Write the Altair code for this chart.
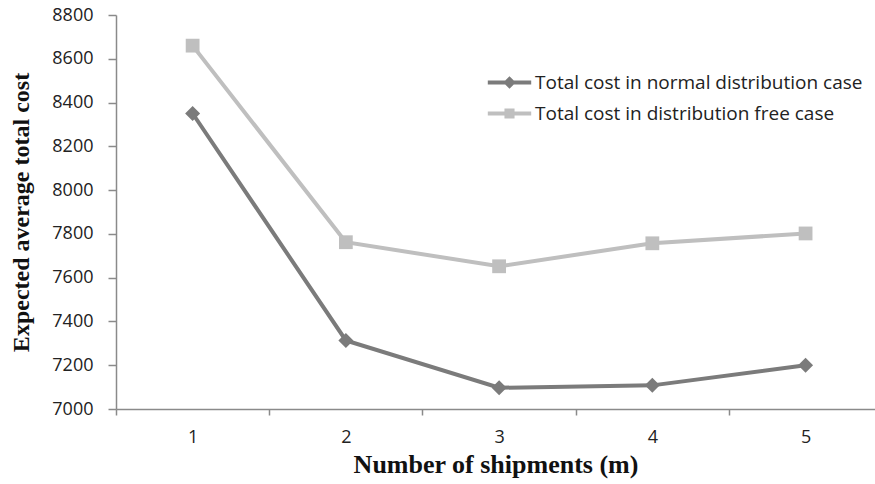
import altair as alt
import pandas as pd

# Expected average total cost by number of shipments
shipments = [1, 2, 3, 4, 5]
normal_cost = [8350, 7313, 7097, 7108, 7200]
free_cost = [8660, 7762, 7652, 7757, 7802]
series_names = [
    "Total cost in normal distribution case",
    "Total cost in distribution free case",
]
series_colors = ["#7b7b7b", "#bfbfbf"]
y_ticks = list(range(7000, 8801, 200))
x_ticks = [0.5, 1, 1.5, 2, 2.5, 3, 3.5, 4, 4.5, 5]

rows = []
for name, vals in zip(series_names, [normal_cost, free_cost]):
    for m, v in zip(shipments, vals):
        rows.append({"m": m, "cost": v, "series": name})
df = pd.DataFrame(rows)

LABEL_FONT = "Open Sans"
TITLE_FONT = "Liberation Serif"
AXIS_GREY = "#8a8a8a"

# legend glyphs: a short line segment with the series marker on it
diamond_path = "M-3.1,-0.27H3.1V0.27H-3.1Z M0,-0.9L0.9,0L0,0.9L-0.9,0Z"
square_path = "M-3.1,-0.27H3.1V0.27H-3.1Z M-0.72,-0.72H0.72V0.72H-0.72Z"
legend_glyphs = [diamond_path, square_path]

x_enc = alt.X(
    "m:Q",
    scale=alt.Scale(domain=[0.5, 5.453], nice=False, zero=False),
    axis=alt.Axis(
        values=x_ticks,
        labelExpr="datum.value % 1 === 0 ? format(datum.value, 'd') : ''",
        tickColor={
            "condition": {"test": "datum.value % 1 === 0", "value": "transparent"},
            "value": AXIS_GREY,
        },
        tickSize=6,
        domainColor=AXIS_GREY,
        domainWidth=1.5,
        tickWidth=1.5,
        grid=False,
        labelFont=LABEL_FONT,
        labelFontSize=18,
        labelColor="#222222",
        labelPadding=13,
        labelOverlap=False,
        labelFlush=False,
        title="Number of shipments  (m)",
        titleFont=TITLE_FONT,
        titleFontSize=26,
        titleFontWeight="bold",
        titleColor="#111111",
        titlePadding=5,
    ),
)

y_enc = alt.Y(
    "cost:Q",
    scale=alt.Scale(domain=[7000, 8800], nice=False, zero=False),
    axis=alt.Axis(
        values=y_ticks,
        format="d",
        tickSize=8,
        tickColor=AXIS_GREY,
        tickWidth=1.5,
        domainColor=AXIS_GREY,
        domainWidth=1.5,
        grid=False,
        labelFont=LABEL_FONT,
        labelFontSize=18,
        labelColor="#222222",
        labelPadding=15,
        title="Expected average total cost",
        titleFont=TITLE_FONT,
        titleFontSize=24,
        titleFontWeight="bold",
        titleColor="#111111",
        titlePadding=18,
    ),
)

color_scale = alt.Scale(domain=series_names, range=series_colors)

lines = alt.Chart(df).mark_line(strokeWidth=4).encode(
    x=x_enc,
    y=y_enc,
    color=alt.Color("series:N", scale=color_scale, legend=None),
)

normal_points = (
    alt.Chart(df)
    .transform_filter(alt.datum.series == series_names[0])
    .mark_point(filled=True, opacity=1, shape="diamond", size=225)
    .encode(
        x=x_enc,
        y=y_enc,
        color=alt.Color("series:N", scale=color_scale, legend=None),
    )
)

free_points = (
    alt.Chart(df)
    .transform_filter(alt.datum.series == series_names[1])
    .mark_point(filled=True, opacity=1, shape="square", size=190)
    .encode(
        x=x_enc,
        y=y_enc,
        color=alt.Color("series:N", scale=color_scale, legend=None),
    )
)


def legend_entry(i):
    """One-row legend for series i; its layer keeps no rows, only the scale."""
    return (
        alt.Chart(df)
        .transform_filter("datum.m < 0")
        .mark_point(filled=True, opacity=1, size=196, color=series_colors[i])
        .encode(
            x=x_enc,
            y=y_enc,
            shape=alt.Shape(
                "series:N",
                scale=alt.Scale(domain=[series_names[i]], range=[legend_glyphs[i]]),
                legend=alt.Legend(
                    title=None,
                    orient="none",
                    legendX=384,
                    legendY=58 + 31 * i,
                    labelFont=LABEL_FONT,
                    labelFontSize=19,
                    labelColor="#222222",
                    labelLimit=0,
                    labelOffset=16,
                    symbolSize=196,
                    symbolOpacity=1,
                    symbolStrokeWidth=0,
                    symbolFillColor=series_colors[i],
                ),
            ),
        )
    )


chart = (
    alt.layer(lines, normal_points, free_points, legend_entry(0), legend_entry(1))
    .resolve_scale(shape="independent")
    .properties(
        width=759,
        height=394,
        autosize=alt.AutoSizeParams(type="none"),
        padding={"left": 116, "top": 15, "right": 0, "bottom": 75},
        background="white",
    )
    .configure_view(stroke=None)
)

chart.save("out.html", embed_options={"renderer": "svg", "actions": False})
